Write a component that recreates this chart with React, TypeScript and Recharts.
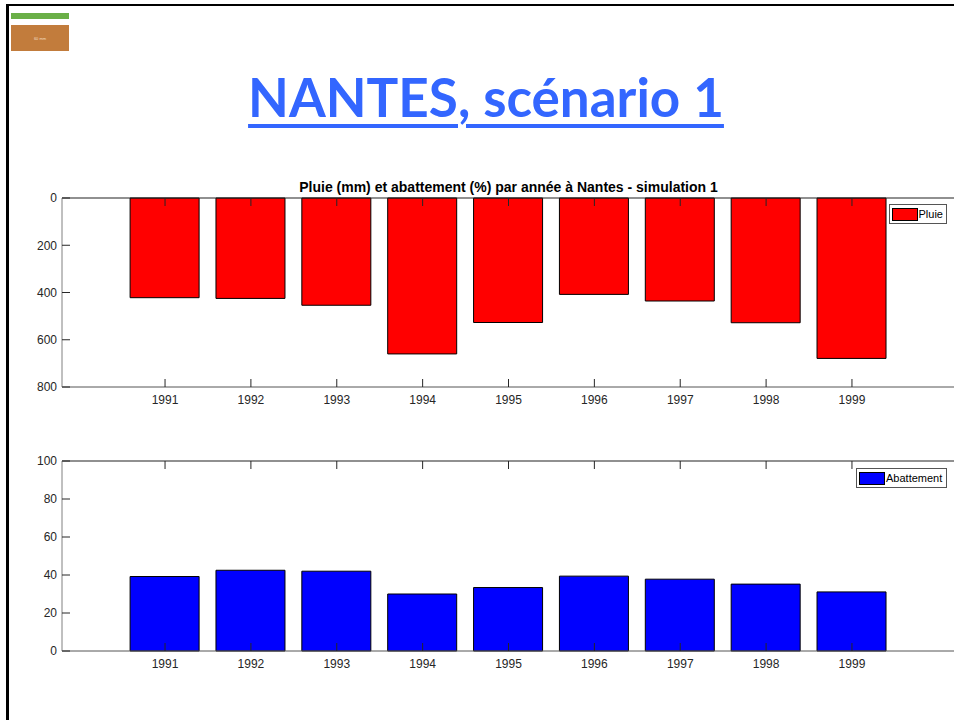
import { BarChart, Bar, XAxis, YAxis, Legend } from "recharts";

// values
const years = [1991, 1992, 1993, 1994, 1995, 1996, 1997, 1998, 1999];
const pluie = [422, 425, 454, 660, 527, 408, 436, 528, 679];
const abattement = [39.2, 42.5, 42.0, 30.0, 33.4, 39.4, 37.8, 35.2, 31.1];
const pluieTicks = [0, 200, 400, 600, 800];
const abatTicks = [0, 20, 40, 60, 80, 100];
const yearDomain = [1989.8, 2000.2];

const pluieData = years.map((year, i) => ({ year, pluie: pluie[i] }));
const abatData = years.map((year, i) => ({ year, abattement: abattement[i] }));

const FONT = "'Liberation Sans', Arial, Helvetica, sans-serif";
const INK = "#262626";
const TICK = 8;

function LeftTick(props: any) {
  const { x, y, payload } = props;
  return (
    <g>
      <line x1={x} y1={y} x2={x + TICK} y2={y} stroke={INK} />
      <text x={x - 5} y={y} dy={4.3} textAnchor="end" fontSize={12} fill={INK} fontFamily={FONT}>
        {payload.value}
      </text>
    </g>
  );
}

function RightTick(props: any) {
  const { x, y } = props;
  return <line x1={x} y1={y} x2={x - TICK} y2={y} stroke={INK} />;
}

function BottomTick(props: any) {
  const { x, y, payload } = props;
  return (
    <g>
      <line x1={x} y1={y} x2={x} y2={y - TICK} stroke={INK} />
      <text x={x} y={y} dy={17} textAnchor="middle" fontSize={12} fill={INK} fontFamily={FONT}>
        {payload.value}
      </text>
    </g>
  );
}

function TopTick(props: any) {
  const { x, y } = props;
  return <line x1={x} y1={y} x2={x} y2={y + TICK} stroke={INK} />;
}

function LegendBox(props: any) {
  const item = props.payload && props.payload[0];
  if (!item) return null;
  return (
    <div
      style={{
        display: "flex",
        alignItems: "center",
        height: "100%",
        boxSizing: "border-box",
        border: "1px solid #555",
        background: "#fff",
        padding: "0 3px 0 2px",
        fontFamily: FONT,
        fontSize: 11,
        color: "#000",
      }}
    >
      <span
        style={{
          display: "inline-block",
          width: 24,
          height: 11,
          background: item.color,
          border: "1px solid #000",
          marginRight: 1,
        }}
      />
      {item.value}
    </div>
  );
}

function Panel(props: {
  data: any[];
  dataKey: string;
  name: string;
  color: string;
  ticks: number[];
  domain: number[];
  reversed: boolean;
  top: number;
  height: number;
  plotTop: number;
  plotBottom: number;
  legend: { left: number; top: number; width: number; height: number };
}) {
  const p = props;
  return (
    <div style={{ position: "absolute", left: 0, top: p.top }}>
      <BarChart
        width={960}
        height={p.height}
        data={p.data}
        margin={{ top: p.plotTop - 1, right: 4, bottom: p.height - p.plotBottom - 1, left: 61 }}
      >
        <Bar
          dataKey={p.dataKey}
          name={p.name}
          fill={p.color}
          stroke="#000"
          strokeWidth={1}
          barSize={69}
          isAnimationActive={false}
        />
        <XAxis
          dataKey="year"
          type="number"
          domain={yearDomain}
          ticks={years}
          interval={0}
          height={1}
          tickSize={0}
          tickMargin={0}
          tick={BottomTick}
          axisLine={{ stroke: "#555" }}
          allowDecimals={false}
        />
        <XAxis
          xAxisId="top"
          orientation="top"
          dataKey="year"
          type="number"
          domain={yearDomain}
          ticks={years}
          interval={0}
          height={1}
          tickSize={0}
          tickMargin={0}
          tick={TopTick}
          axisLine={{ stroke: "#222", strokeWidth: 1.2 }}
        />
        <YAxis
          type="number"
          domain={p.domain}
          ticks={p.ticks}
          reversed={p.reversed}
          interval={0}
          width={1}
          tickSize={0}
          tickMargin={0}
          tick={LeftTick}
          axisLine={{ stroke: "#808080" }}
        />
        <YAxis
          yAxisId="right"
          orientation="right"
          type="number"
          domain={p.domain}
          ticks={p.ticks}
          reversed={p.reversed}
          interval={0}
          width={1}
          tickSize={0}
          tickMargin={0}
          tick={RightTick}
          axisLine={{ stroke: "#222" }}
        />
        <Legend
          layout="horizontal"
          verticalAlign="middle"
          align="center"
          content={LegendBox}
          wrapperStyle={{
            left: p.legend.left,
            top: p.legend.top,
            width: p.legend.width,
            height: p.legend.height,
          }}
        />
      </BarChart>
    </div>
  );
}

export default function App() {
  return (
    <div
      style={{
        position: "absolute",
        left: 0,
        top: 0,
        width: 954,
        height: 720,
        overflow: "hidden",
        background: "#fff",
      }}
    >
      {/* slide frame */}
      <div style={{ position: "absolute", left: 6, top: 4, width: 3, height: 716, background: "#000" }} />
      <div style={{ position: "absolute", left: 6, top: 4, width: 948, height: 2, background: "#000" }} />
      <div style={{ position: "absolute", left: 11, top: 13, width: 58, height: 6, background: "#6aaf47" }} />
      <div
        style={{
          position: "absolute",
          left: 11,
          top: 25,
          width: 58,
          height: 26,
          background: "#c27c3c",
          color: "#f3dcc4",
          fontSize: 4,
          fontFamily: FONT,
          display: "flex",
          alignItems: "center",
          justifyContent: "center",
        }}
      >
        60 mm
      </div>

      <div
        style={{
          position: "absolute",
          left: 0,
          top: 70,
          width: 972,
          textAlign: "center",
          fontFamily: "Lato, 'Open Sans', sans-serif",
          fontWeight: 700,
          fontSize: 53,
          lineHeight: "53px",
          color: "#3366ff",
          textDecoration: "underline",
          textDecorationThickness: "4px",
          textUnderlineOffset: "7px",
        }}
      >
        NANTES, scénario 1
      </div>

      <div
        style={{
          position: "absolute",
          left: 62,
          top: 179,
          width: 893,
          textAlign: "center",
          fontFamily: FONT,
          fontWeight: 700,
          fontSize: 14,
          lineHeight: "16px",
          color: "#000",
        }}
      >
        Pluie (mm) et abattement (%) par année à Nantes - simulation 1
      </div>

      <Panel
        data={pluieData}
        dataKey="pluie"
        name="Pluie"
        color="#ff0000"
        ticks={pluieTicks}
        domain={[0, 800]}
        reversed={true}
        top={0}
        height={420}
        plotTop={198}
        plotBottom={387}
        legend={{ left: 889, top: 204, width: 58, height: 20 }}
      />
      <Panel
        data={abatData}
        dataKey="abattement"
        name="Abattement"
        color="#0000ff"
        ticks={abatTicks}
        domain={[0, 100]}
        reversed={false}
        top={430}
        height={260}
        plotTop={31}
        plotBottom={221}
        legend={{ left: 856, top: 38, width: 91, height: 20 }}
      />
    </div>
  );
}
